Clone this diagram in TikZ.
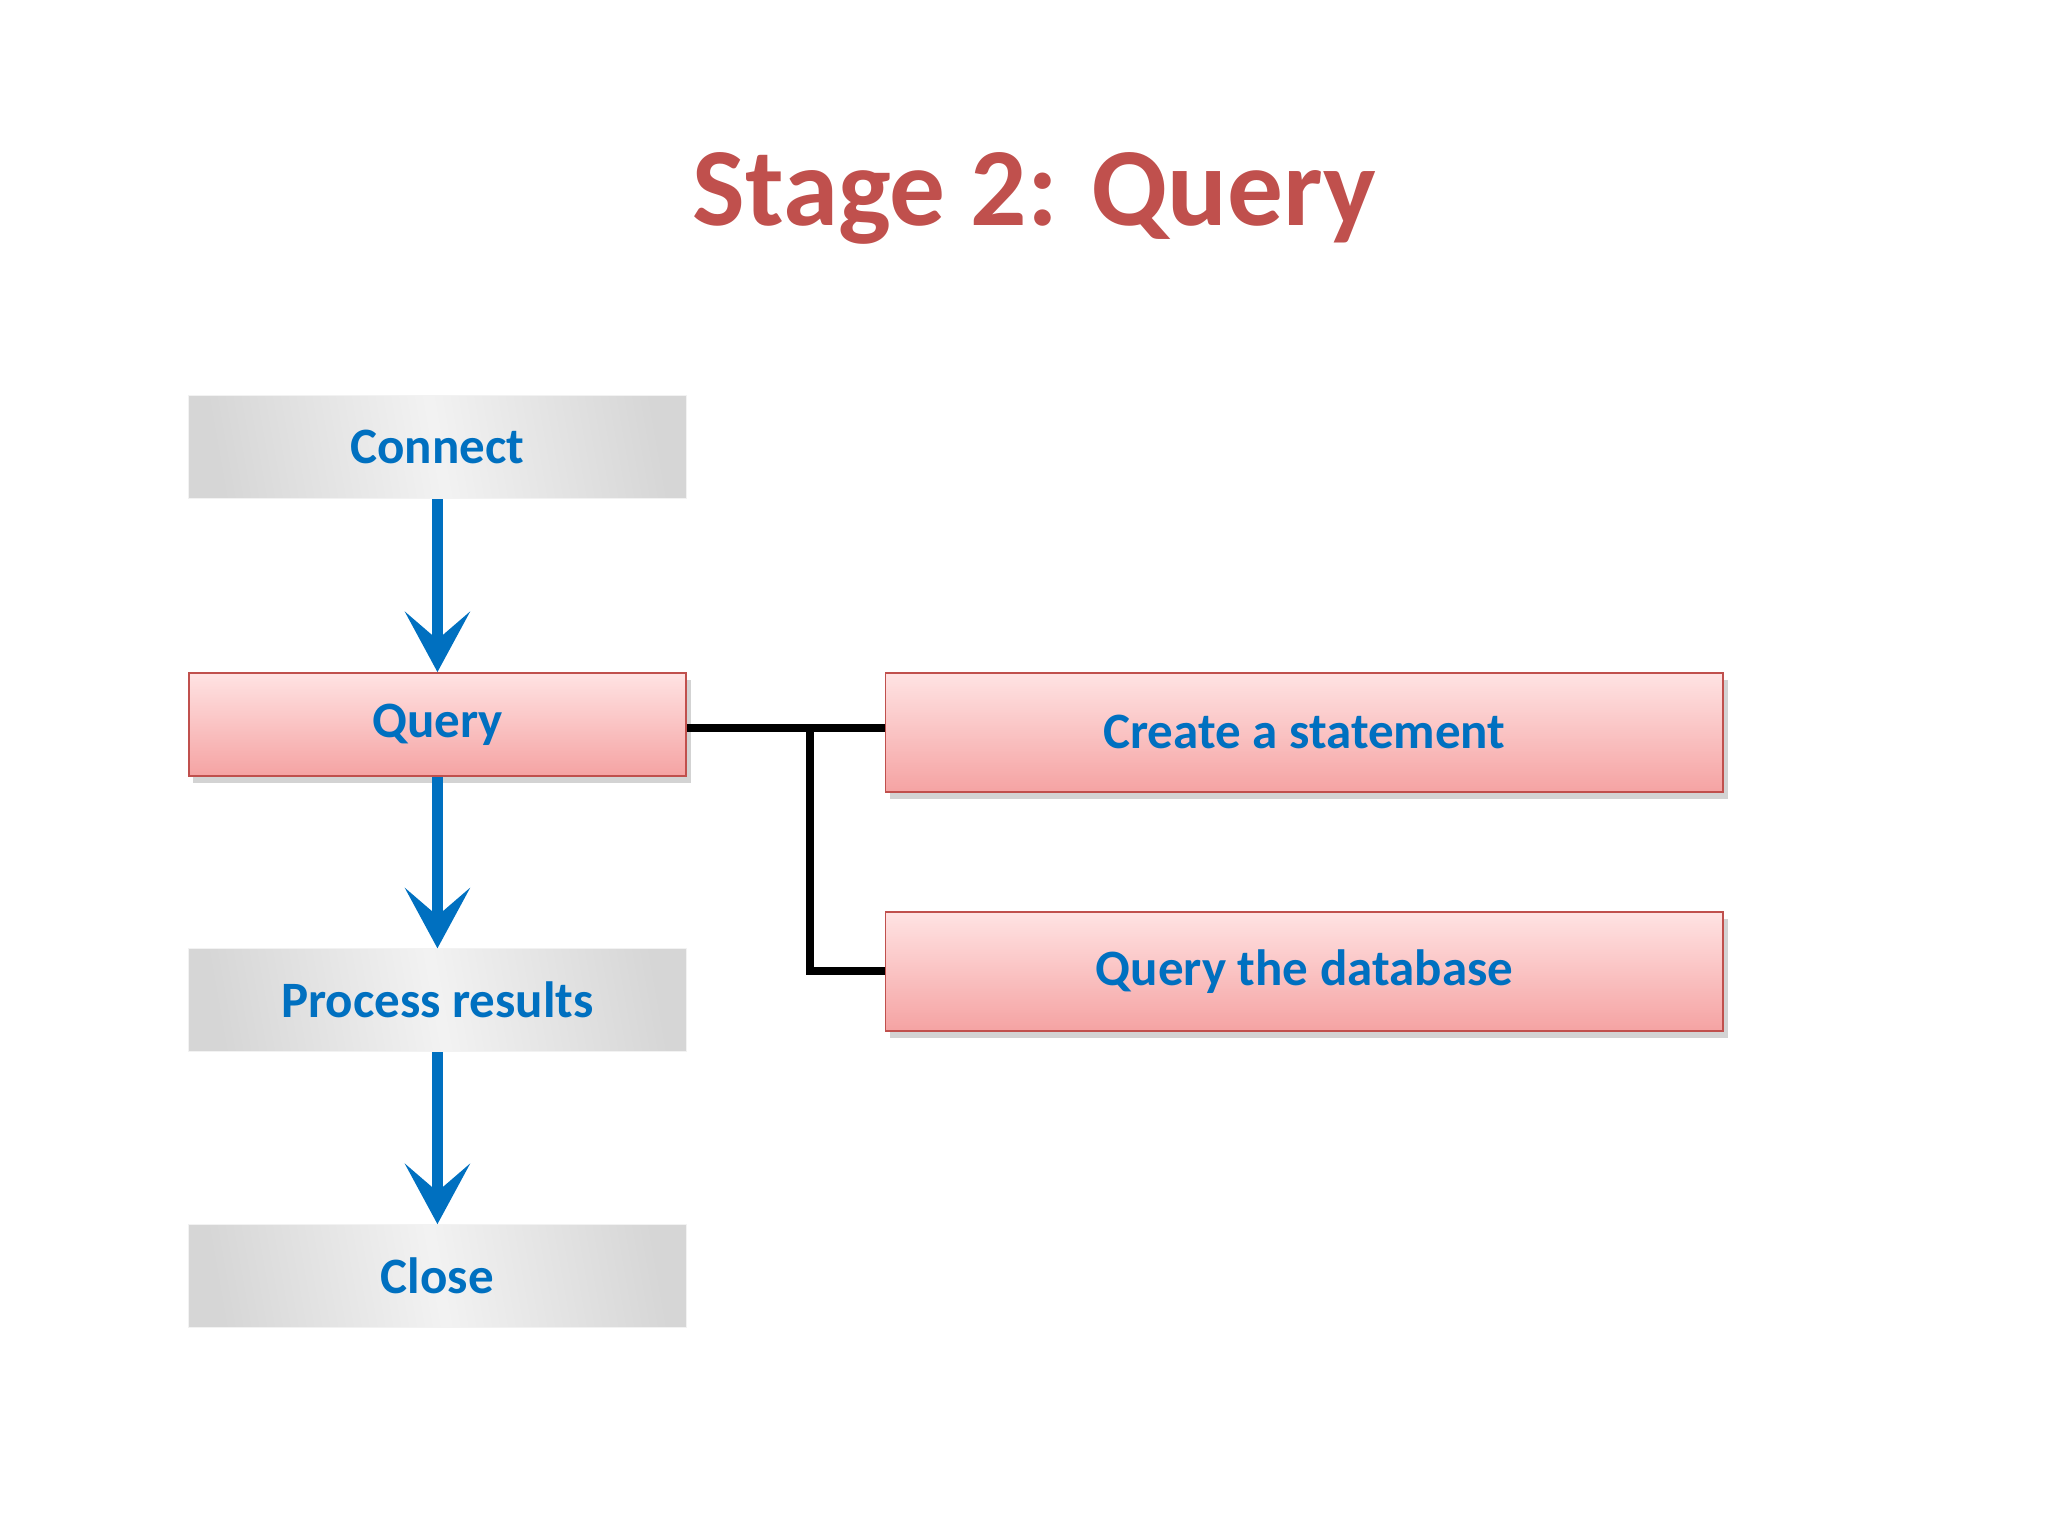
\documentclass[tikz,border=0pt]{standalone}
\usepackage{fontspec}
\setmainfont{Carlito}
\usetikzlibrary{arrows.meta,shadows}
\definecolor{ttl}{HTML}{C0504D}
\definecolor{txt}{HTML}{0070C0}
\definecolor{pinktop}{HTML}{FFE3E3}
\definecolor{pinkbot}{HTML}{F5A3A3}
\definecolor{pinkdraw}{HTML}{C0504D}
\tikzset{
 lbl/.style={font=\bfseries\fontsize{22}{26}\selectfont, text=txt, inner sep=0pt},
 gbox/.style={lbl, draw=white!95!black, left color=white!84!black, right color=white!84!black, middle color=white!95!black, shading angle=100,
   minimum width=7.54cm, minimum height=1.56cm},
 pbox/.style={lbl, draw=pinkdraw, line width=0.8pt, top color=pinktop, bottom color=pinkbot,
   drop shadow={shadow xshift=2pt, shadow yshift=-3pt, opacity=0.35}},
 sbox/.style={pbox, minimum width=7.54cm, minimum height=1.56cm},
 wbox/.style={pbox, minimum width=12.7cm, minimum height=1.8cm},
 flow/.style={draw=txt, line width=4.5pt, -{Stealth[length=26pt,width=28pt,inset=12pt]}},
 link/.style={draw=black, line width=3.5pt}
}
\begin{document}
\begin{tikzpicture}[x=0.02cm,y=-0.02cm]
\useasboundingbox (0,0) rectangle (1552,1164);
\node[font=\bfseries\fontsize{48}{58}\selectfont, text=ttl] (title) at (784,150) {Stage 2: Query};
\node[gbox] (c) at (331.5,339) {Connect};
\node[sbox] (q) at (331.5,549) {Query};
\node[gbox] (p) at (331.5,758) {Process results};
\node[gbox] (cl) at (331.5,967) {Close};
\node[wbox] (cs) at (988.5,555) {Create a statement};
\node[wbox] (qd) at (988.5,736) {Query the database};
\coordinate (j) at (614,552);
\draw[flow] (c.south) -- (q.north);
\draw[flow] (q.south) -- (p.north);
\draw[flow] (p.south) -- (cl.north);
\draw[link] (q.east |- j) -- (cs.west |- j);
\draw[link] (j) |- (qd.west);
\end{tikzpicture}
\end{document}
